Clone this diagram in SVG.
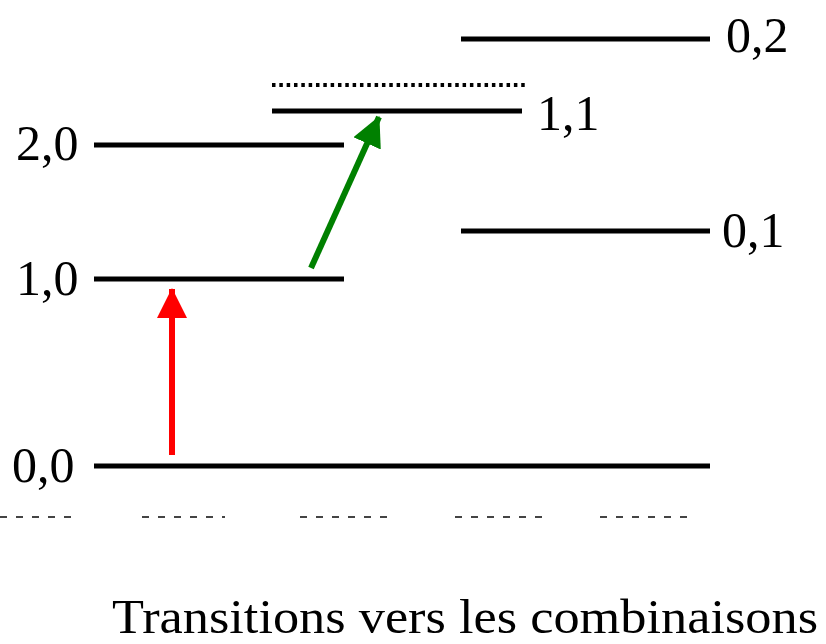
<svg xmlns="http://www.w3.org/2000/svg" width="826" height="644" viewBox="0 0 826 644">
<style>
.lvl{stroke:#000;stroke-width:5;fill:none}
.lbl{font-family:"Liberation Serif","Times New Roman",serif;font-size:50px;fill:#000}
.frag{stroke:#444;stroke-width:2;stroke-dasharray:7 9;fill:none}
</style>
<defs>
<marker id="hr" markerUnits="userSpaceOnUse" markerWidth="32" markerHeight="32" refX="29" refY="15" orient="auto" viewBox="0 0 32 32"><path d="M0,0 L30,15 L0,30 Z" fill="#ff0000"/></marker>
<marker id="hg" markerUnits="userSpaceOnUse" markerWidth="32" markerHeight="32" refX="29" refY="15" orient="auto" viewBox="0 0 32 32"><path d="M0,0 L30,15 L0,30 Z" fill="#008000"/></marker>
</defs>
<rect width="826" height="644" fill="#fff"/>
<g id="level-00"><line class="lvl" x1="94" y1="466" x2="710" y2="466"/><text class="lbl" x="12" y="482">0,0</text></g>
<g id="level-10"><line class="lvl" x1="94" y1="279" x2="344" y2="279"/><text class="lbl" x="16" y="295">1,0</text></g>
<g id="level-20"><line class="lvl" x1="94" y1="145" x2="344" y2="145"/><text class="lbl" x="16" y="160">2,0</text></g>
<g id="level-11"><line class="lvl" x1="272" y1="111" x2="522" y2="111"/><text class="lbl" x="537" y="130">1,1</text></g>
<g id="virtual"><line x1="272" y1="85" x2="526" y2="85" stroke="#000" stroke-width="4" stroke-dasharray="3.5 3.83"/></g>
<g id="level-02"><line class="lvl" x1="461" y1="39" x2="710" y2="39"/><text class="lbl" x="726" y="52">0,2</text></g>
<g id="level-01"><line class="lvl" x1="461" y1="231" x2="710" y2="231"/><text class="lbl" x="722" y="247">0,1</text></g>
<g id="connectors">
<line x1="172" y1="455" x2="172" y2="289" stroke="#ff0000" stroke-width="6" marker-end="url(#hr)"/>
<line x1="311" y1="268" x2="379" y2="117" stroke="#008000" stroke-width="6" marker-end="url(#hg)"/>
</g>
<g id="fragments">
<line class="frag" x1="0" y1="517" x2="80" y2="517"/>
<line class="frag" x1="142" y1="517" x2="225" y2="517"/>
<line class="frag" x1="300" y1="517" x2="390" y2="517"/>
<line class="frag" x1="455" y1="517" x2="545" y2="517"/>
<line class="frag" x1="600" y1="517" x2="690" y2="517"/>
</g>
<text class="lbl" x="112" y="633" textLength="706" lengthAdjust="spacingAndGlyphs" style="font-size:48px">Transitions vers les combinaisons</text>
</svg>
